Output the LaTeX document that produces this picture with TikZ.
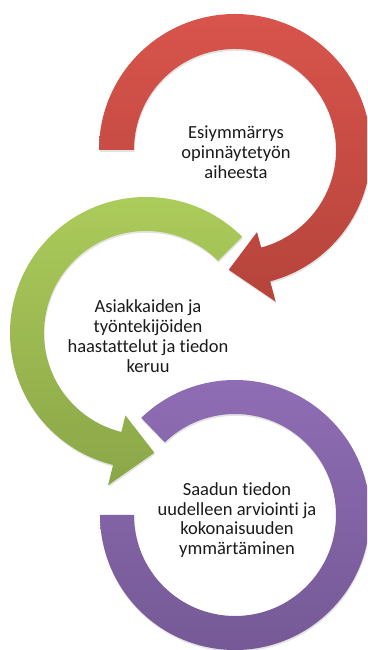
\documentclass[tikz,border=0pt]{standalone}
\usepackage{fontspec}
\setmainfont[Ligatures={NoCommon}]{Carlito}
\usetikzlibrary{shadows}
\definecolor{redtop}{HTML}{D8544C}
\definecolor{redbot}{HTML}{B5443B}
\definecolor{greentop}{HTML}{ADCD5B}
\definecolor{greenbot}{HTML}{8BA648}
\definecolor{purptop}{HTML}{906EB6}
\definecolor{purpbot}{HTML}{745894}
\definecolor{txt}{HTML}{1A1A1A}
\tikzset{
  ringarrow/.style={drop shadow={opacity=0.22, shadow xshift=0.6pt, shadow yshift=-1.8pt}},
  lbl/.style={align=center, text=txt, font=\fontsize{18.5pt}{19.8pt}\selectfont, inner sep=0pt}
}
\begin{document}
\begin{tikzpicture}[x=1pt,y=1pt]
\useasboundingbox (0,0) rectangle (367,650);
\clip (0,0) rectangle (367,650);
% purple ring
\begin{scope}[shift={(235,135)}]
\shade[ringarrow, top color=purptop, bottom color=purpbot]
  (134:135pt) arc[start angle=134, end angle=-180, radius=135pt]
  -- (180:101pt) arc[start angle=180, end angle=494, radius=101pt] -- cycle;
\end{scope}
% green ring
\begin{scope}[shift={(146,317)}]
\shade[ringarrow, top color=greentop, bottom color=greenbot]
  (45:136pt) arc[start angle=45, end angle=256, radius=136pt]
  -- (256:157pt) -- (274:120pt) -- (256:85pt) -- (256:102pt)
  arc[start angle=256, end angle=45, radius=102pt] -- cycle;
\end{scope}
% red ring
\begin{scope}[shift={(235,500)}]
\shade[ringarrow, top color=redtop, bottom color=redbot]
  (180:136pt) arc[start angle=180, end angle=-75, radius=136pt]
  -- (-75:157pt) -- (-93:120pt) -- (-75:85pt) -- (-75:101pt)
  arc[start angle=-75, end angle=180, radius=101pt] -- cycle;
\end{scope}
\node[lbl] (t1) at (236,498) {Esiymmärrys\\opinnäytetyön\\aiheesta};
\node[lbl] (t2) at (148,314) {Asiakkaiden ja\\työntekijöiden\\haastattelut ja tiedon\\keruu};
\node[lbl] (t3) at (237,130) {Saadun tiedon\\uudelleen arviointi ja\\kokonaisuuden\\ymmärtäminen};
\end{tikzpicture}
\end{document}
